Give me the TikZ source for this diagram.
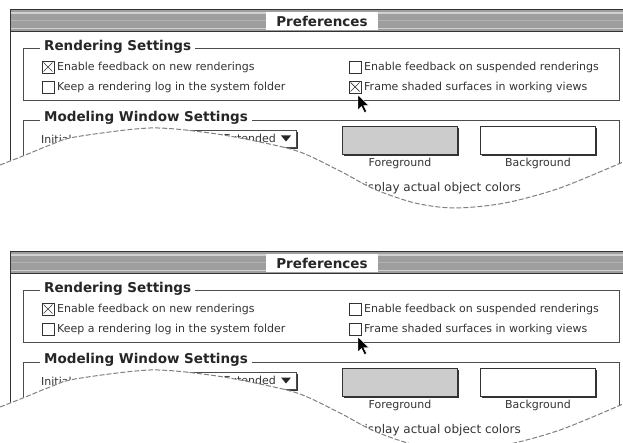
\documentclass[tikz,border=0pt]{standalone}
\usepackage{fontspec}
\setmainfont{DejaVu Sans}
\usetikzlibrary{calc}
\tikzset{
  winline/.style={draw=black!80, line width=1pt},
  grpline/.style={draw=black!70, line width=0.9pt},
  grptitle/.style={anchor=west, fill=white, inner xsep=4pt, inner ysep=1pt, text=black!85, font=\fontsize{13.5}{15}\selectfont\bfseries},
  small/.style={anchor=west, inner sep=1pt, text=black!80, font=\fontsize{11}{13}\selectfont},
  chkbox/.style={draw=black!80, line width=0.8pt, fill=white, minimum size=12pt, inner sep=0pt},
  ticked/.style={chkbox, path picture={
    \draw[black!80, line width=0.7pt]
      ([shift={(1.5pt,1.5pt)}]path picture bounding box.south west) -- ([shift={(-1.5pt,-1.5pt)}]path picture bounding box.north east)
      ([shift={(1.5pt,-1.5pt)}]path picture bounding box.north west) -- ([shift={(-1.5pt,1.5pt)}]path picture bounding box.south east);}},
  swatch/.style={draw=black!80, line width=0.9pt, minimum width=115pt, minimum height=28pt, inner sep=0pt},
  tear/.style={draw=black!50, line width=1pt, dash pattern=on 5pt off 2pt},
}

\begin{document}
\begin{tikzpicture}[x=1pt,y=-1pt]
\useasboundingbox (0,0) rectangle (623,443);

\foreach \p/\dy/\fr in {1/0/ticked,2/242/chkbox}{
\begin{scope}[yshift=-\dy pt]
% title bar
\fill[black!38] (10,10) rectangle (623,32);
\draw[black!18, line width=1.2pt] (11,13) -- (623,13) (11,28.5) -- (623,28.5);
\draw[black!30, line width=0.6pt] (11,20.5) -- (623,20.5);
\draw[winline] (623,10) -- (10,10) -- (10,220);
\draw[winline] (10,31.5) -- (623,31.5);
\node[fill=white, minimum width=112pt, minimum height=18pt, inner sep=0pt, text=black!85,
  font=\fontsize{13.5}{15}\selectfont\bfseries] (pref\p) at (322,21) {Preferences};

% rendering settings
\draw[grpline] (23,48) rectangle (619,100);
\node[grptitle] (rend\p) at (40,47) {Rendering Settings};
\node[ticked] (fbnew\p) at (48,67) {};
\node[small] (fbnewtxt\p) at (56,67) {Enable feedback on new renderings};
\node[chkbox] (log\p) at (48,87) {};
\node[small] (logtxt\p) at (56,87) {Keep a rendering log in the system folder};
\node[chkbox] (fbsus\p) at (355,67) {};
\node[small] (fbsustxt\p) at (363,67) {Enable feedback on suspended renderings};
\node[\fr] (frame\p) at (355,87) {};
\node[small] (frametxt\p) at (363,87) {Frame shaded surfaces in working views};

% modeling window settings
\draw[grpline] (23,230) -- (23,120) -- (619,120) -- (619,230);
\node[grptitle] (model\p) at (40,118) {Modeling Window Settings};
\node[small] (init\p) at (40,139) {Initial};
\draw[grpline, fill=white] (170,130) rectangle (296,147);
\draw[black!80, line width=1.5pt] (173,148.5) -- (297.5,148.5) -- (297.5,132);
\node[small, anchor=east] (popup\p) at (277,138.5) {Extended};
\fill[black!85] (281,135.5) -- (291,135.5) -- (286,141.5) -- cycle;

\node[swatch, fill=black!20] (fg\p) at (400,140) {};
\draw[black!80, line width=1.5pt] (fg\p.south west) ++(2pt,-1pt) -| ([yshift=-2pt]fg\p.north east);
\node[small, anchor=center] (fglbl\p) at (400,163) {Foreground};
\node[swatch, fill=white] (bg\p) at (538,140) {};
\draw[black!80, line width=1.5pt] (bg\p.south west) ++(2pt,-1pt) -| ([yshift=-2pt]bg\p.north east);
\node[small, anchor=center] (bglbl\p) at (538,163) {Background};
\node[small, anchor=east, font=\fontsize{12}{14}\selectfont] (colors\p) at (522,188) {Display actual object colors};

% cursor
\draw[fill=black, draw=white, line width=0.4pt] (358,95) -- ++(0,15) -- ++(3.5,-3.5)
  -- ++(3,6) -- ++(2.2,-1) -- ++(-3,-6) -- ++(5,0) -- cycle;

% torn edge
\fill[white] plot[smooth] coordinates {(0,165) (23,156) (50,145) (75,137) (150,128) (210,133)
  (260,142) (300,152) (340,171) (374,189) (415,203) (455,208) (505,203) (560,188) (623,162)}
  -- (623,245) -- (0,245) -- cycle;
\draw[tear] plot[smooth] coordinates {(0,165) (23,156) (50,145) (75,137) (150,128) (210,133)
  (260,142) (300,152) (340,171) (374,189) (415,203) (455,208) (505,203) (560,188) (623,162)};
\end{scope}
}
\end{tikzpicture}
\end{document}
